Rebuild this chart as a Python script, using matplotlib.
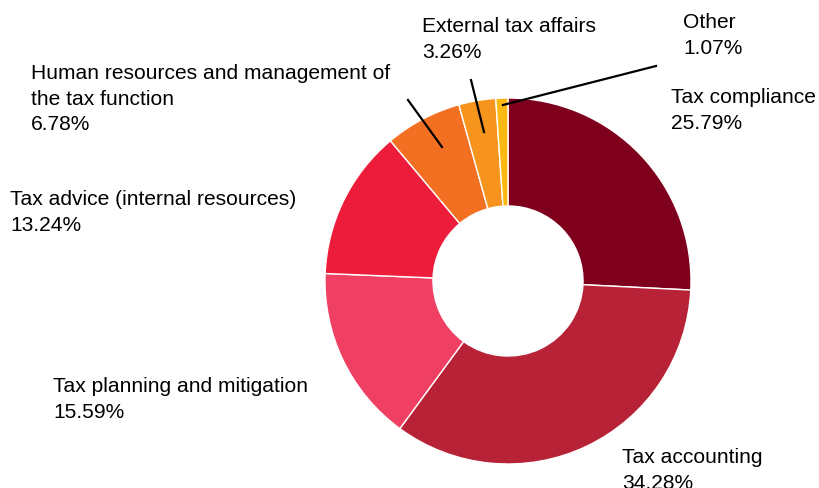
import matplotlib.pyplot as plt
import matplotlib.transforms as mtransforms

# share of tax function spend by activity
labels = ["Tax compliance", "Tax accounting", "Tax planning and mitigation",
          "Tax advice (internal resources)",
          "Human resources and management of\nthe tax function",
          "External tax affairs", "Other"]
shares = [25.79, 34.28, 15.59, 13.24, 6.78, 3.26, 1.07]
colors = ["#7f001c", "#b82236", "#ef4064", "#ed1c3a", "#f37022", "#f7941d", "#fdb913"]

plt.rcParams["font.family"] = ["Liberation Sans", "DejaVu Sans"]

fig = plt.figure(figsize=(8.19, 4.88), dpi=100)
ax = fig.add_axes([0, 0, 1, 1])

cx, cy, r = 508, 281, 183
wedges, _ = ax.pie(shares, colors=colors, center=(cx, -cy), radius=r,
                   startangle=90, counterclock=False,
                   wedgeprops=dict(width=r * 0.59, edgecolor="white", linewidth=1))
# pie draws with y up; flip the wedges into the top-down axis
flip = mtransforms.Affine2D().scale(1, -1)
for w in wedges:
    w.set_transform(flip + ax.transData)
ax.set_xlim(0, 819)
ax.set_ylim(488, 0)
ax.set_aspect("equal")
ax.axis("off")

# label positions (left x, top y)
label_pos = [(671, 88), (622, 448), (53, 377), (10, 190), (31, 64), (422, 17), (683, 13)]
for name, val, (x, y) in zip(labels, shares, label_pos):
    ax.text(x, y, f"{name}\n{val:.2f}%", ha="left", va="top", fontsize=15.1,
            linespacing=1.45, color="black")

# leader lines for the thin slices
leaders = [((408, 100), (442, 147)), ((471, 80), (484, 132)), ((656, 66), (503, 105))]
for (x0, y0), (x1, y1) in leaders:
    ax.plot([x0, x1], [y0, y1], color="black", linewidth=1.6)

fig.savefig("out.png", dpi=100)
